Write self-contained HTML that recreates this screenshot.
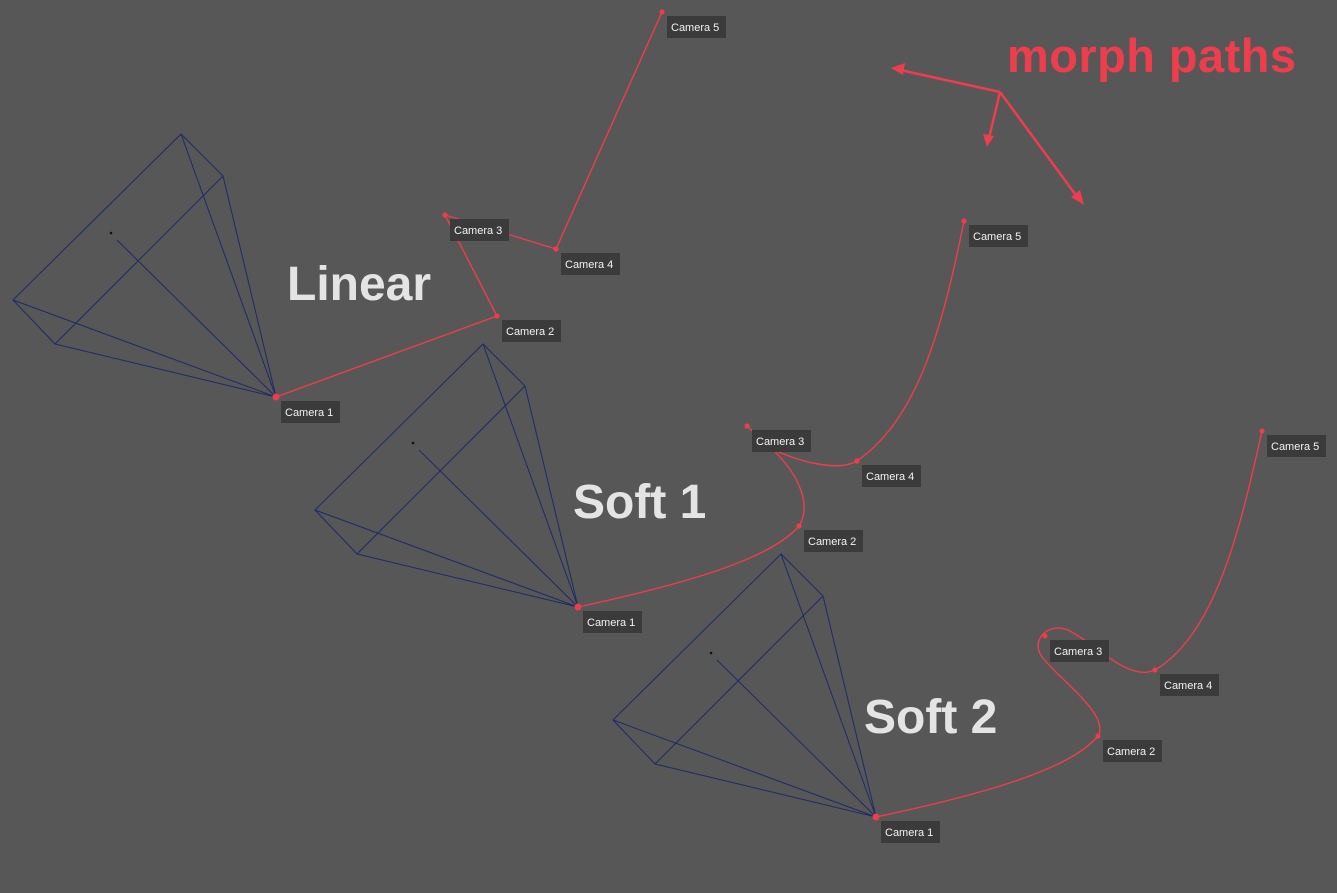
<!DOCTYPE html>
<html><head><meta charset="utf-8"><style>
html,body{margin:0;padding:0;background:#575757;}
svg{display:block}
.lbl rect{fill:#3b3b3b}
.lbl text{fill:#f2f2f2;font:11px "Liberation Sans",sans-serif}
.title{fill:#e4e4e4;font:bold 48px "Liberation Sans",sans-serif}
</style></head><body>
<svg id="s" width="1337" height="893" viewBox="0 0 1337 893">
<rect width="1337" height="893" fill="#575757"/>
<text class="title" x="287" y="300">Linear</text>
<text class="title" x="573" y="518">Soft 1</text>
<text class="title" x="864" y="733">Soft 2</text>
<text x="1007" y="72" fill="#ee3d4d" style="font:bold 47px 'Liberation Sans',sans-serif" textLength="289">morph paths</text>
<g stroke="#ee3d4d" stroke-width="2.5" fill="#ee3d4d">
<line x1="1000" y1="92" x2="900" y2="70"/><polygon points="891,68 905,63 903,75" stroke="none"/>
<line x1="1000" y1="92" x2="989" y2="138"/><polygon points="987,147 983,134 994,136" stroke="none"/>
<line x1="1000" y1="92" x2="1078" y2="198"/><polygon points="1084,205 1071,197 1080,190" stroke="none"/>
</g>
<g id="g"></g>
</svg>
<script>
const apexes=[[276,397],[578,607],[876,817]];
const frustumOffsets=[[-95,-263],[-53,-221],[-221,-53],[-263,-97]];
const pathNames=["linear","soft1","soft2"];
const cams=[
 [[276,397],[497,316],[445,215],[556,249],[662,12]],
 [[578,607],[799,526],[747,426],[857,461],[964,221]],
 [[876,817],[1098,736],[1045,636],[1155,670],[1262,431]]];
const softPaths=[
 null,
 "M578,607 C680,585 770,560 799,526 C815,500 790,465 772,449 L747,426 M772,449 C800,462 838,472 857,461 C915,420 940,340 964,221",
 "M876,817 C980,795 1070,770 1098,736 C1110,715 1062,682 1042,657 C1030,640 1048,622 1068,630 C1098,645 1128,682 1155,670 C1215,635 1240,530 1262,431"];
const NS="http://www.w3.org/2000/svg";
const g=document.getElementById('g');
function mk(t,a){const e=document.createElementNS(NS,t);for(const k in a)e.setAttribute(k,a[k]);return e;}
apexes.forEach((a,i)=>{
 const fg=mk('g',{stroke:'#1e2a66','stroke-width':1,fill:'none'});
 
 
 const c=frustumOffsets.map(o=>[a[0]+o[0],a[1]+o[1]]);
 fg.appendChild(mk('polygon',{points:c.map(p=>p.join(',')).join(' ')}));
 c.forEach(p=>fg.appendChild(mk('line',{x1:a[0],y1:a[1],x2:p[0],y2:p[1]})));
 fg.appendChild(mk('line',{x1:a[0]-159,y1:a[1]-157,x2:a[0],y2:a[1]}));
 fg.appendChild(mk('circle',{cx:a[0]-165,cy:a[1]-164,r:1.3,fill:'#111',stroke:'none'}));
 g.appendChild(fg);
});
cams.forEach((pts,i)=>{
 const d=softPaths[i]||('M'+pts.map(p=>p.join(',')).join(' L'));
 const path=mk('path',{d:d,stroke:'#ee3d4d','stroke-width':1.4,fill:'none'});
 
 
 g.appendChild(path);
 pts.forEach((p,j)=>{
  const dot=mk('circle',{cx:p[0],cy:p[1],r:j==0?3.5:2.6,fill:'#ee3d4d'});
  
  
  g.appendChild(dot);
  const lg=mk('g',{'class':'lbl'});
  
  
  lg.appendChild(mk('rect',{x:p[0]+5,y:p[1]+4,width:59,height:22}));
  const t=mk('text',{x:p[0]+9,y:p[1]+19});t.textContent='Camera '+(j+1);
  lg.appendChild(t);g.appendChild(lg);
 });
});
</script>
</body></html>
